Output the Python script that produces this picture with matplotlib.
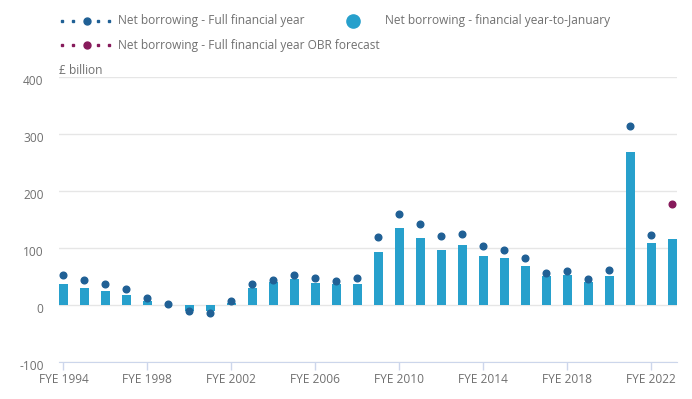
import numpy as np
import matplotlib.pyplot as plt
import matplotlib.transforms as mtrans
from matplotlib.lines import Line2D

plt.rcParams['font.family'] = ['Open Sans', 'DejaVu Sans']
plt.rcParams['axes.unicode_minus'] = False

# Financial years ending
years = list(range(1994, 2024))
labels = ['FYE %d' % y for y in years]

# Net borrowing - financial year-to-January (bars)
ytd_jan = [36, 29, 23.5, 16.5, 6, 0, -11, -11, 4, 29,
           39.5, 44.7, 37.6, 36, 36, 92, 135, 117, 96, 105,
           85, 82, 69, 50, 52, 39.4, 50, 269, 108, 115]

# Net borrowing - full financial year (dots), none yet for FYE 2023
full_year = [52.4, 43.5, 36.5, 27.6, 11.8, 0.6, -11, -15, 6.5, 36.5,
             43.5, 52.4, 47, 42, 46.5, 119, 160, 142, 121, 125,
             103.5, 96.5, 82, 56, 59.4, 45.3, 61, 314, 123, np.nan]

# OBR forecast for the latest year
obr_forecast = [np.nan] * 29 + [177.6]

bar_col = '#27a0cc'
dot_col = '#206095'
obr_col = '#871a5b'
txt_col = '#707070'
fs = 8.6

fig = plt.figure(figsize=(6.92, 3.99), dpi=100)
ax = fig.add_axes([0.0853, 0.0935, 0.978 - 0.0853, 0.8063 - 0.0935])

x = np.arange(len(years))
ax.bar(x, ytd_jan, width=0.43, color=bar_col, zorder=2)
ax.plot(x, full_year, 'o', color=dot_col, markersize=4.8, zorder=3)
ax.plot(x, obr_forecast, 'o', color=obr_col, markersize=4.8, zorder=3)

ax.set_xlim(-0.21, 29.21)
ax.set_ylim(-100, 400)
ax.set_yticks([-100, 0, 100, 200, 300, 400])
ax.set_xticks(x[::4])
ax.set_xticklabels(labels[::4])

ax.grid(axis='y', color='#e6e6e6', linewidth=1, zorder=0)
ax.set_axisbelow(True)
for s in ['top', 'right', 'left']:
    ax.spines[s].set_visible(False)
ax.spines['bottom'].set_color('#ccd6eb')
ax.tick_params(axis='x', colors='#ccd6eb', length=6, width=1, labelcolor=txt_col,
               labelsize=fs, pad=2)
ax.tick_params(axis='y', length=0, labelcolor=txt_col, labelsize=fs, pad=11)
# highcharts puts the y labels a little under their grid line
shift = mtrans.ScaledTranslation(0, -3 / 100, fig.dpi_scale_trans)
for t in ax.get_yticklabels():
    t.set_transform(t.get_transform() + shift)

fig.text(59 / 692, 1 - 71 / 399, '£ billion', color=txt_col, fontsize=fs, va='center')

# legend, drawn by hand to match the layout
def leg_handle(y, col):
    yy = 1 - y / 399
    xs = [61.7, 73.3, 97.7, 109.3]
    fig.add_artist(Line2D([v / 692 for v in xs], [yy] * 4, ls='none', marker='s',
                          markersize=2, color=col, transform=fig.transFigure))
    fig.add_artist(Line2D([86.7 / 692], [yy], ls='none', marker='o',
                          markersize=5, color=col, transform=fig.transFigure))

leg_handle(20.5, dot_col)
fig.text(118 / 692, 1 - 20.5 / 399, 'Net borrowing - Full financial year',
         color=txt_col, fontsize=fs, va='center')
fig.add_artist(Line2D([353 / 692], [1 - 20.5 / 399], ls='none', marker='o',
                      markersize=9.5, color=bar_col, transform=fig.transFigure))
fig.text(385 / 692, 1 - 20.5 / 399, 'Net borrowing - financial year-to-January',
         color=txt_col, fontsize=fs, va='center')
leg_handle(45, obr_col)
fig.text(118 / 692, 1 - 45 / 399, 'Net borrowing - Full financial year OBR forecast',
         color=txt_col, fontsize=fs, va='center')

fig.savefig('out.png', dpi=100)
